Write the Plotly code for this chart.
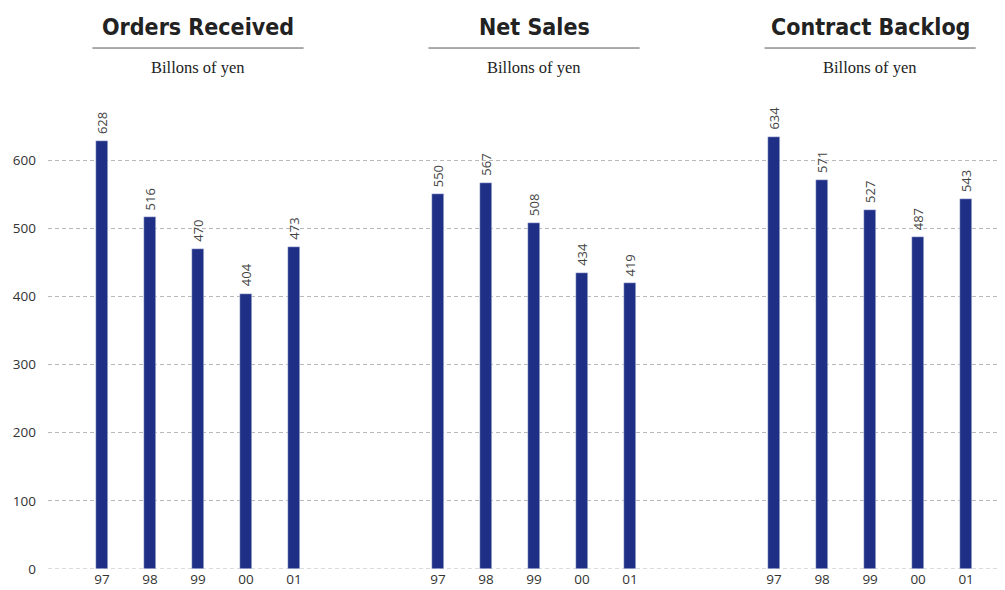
import plotly.graph_objects as go

groups = ["Orders Received", "Net Sales", "Contract Backlog"]
years = ["97", "98", "99", "00", "01"]
orders_received = [628, 516, 470, 404, 473]
net_sales = [550, 567, 508, 434, 419]
contract_backlog = [634, 571, 527, 487, 543]
series = [orders_received, net_sales, contract_backlog]
subtitle = "Billons of yen"
y_ticks = [0, 100, 200, 300, 400, 500, 600]

BAR_COLOR = "#1f2f86"
GRID = "#b8b8b8"
SLOTS_PER_GROUP = 7

fig = go.Figure()
xs_all, tick_text = [], []
for g, vals in enumerate(series):
    xs = [g * SLOTS_PER_GROUP + i for i in range(len(years))]
    xs_all += xs
    tick_text += years
    fig.add_trace(go.Bar(
        x=xs, y=vals, width=0.25, marker_color=BAR_COLOR,
        showlegend=False, hoverinfo="skip",
    ))
    for x, v in zip(xs, vals):
        fig.add_annotation(x=x, y=v, xref="x", yref="y", text=str(v), textangle=-90,
                           showarrow=False, yanchor="bottom", yshift=5,
                           font=dict(family="Open Sans", size=13, color="#444"))
    center = g * SLOTS_PER_GROUP + 2
    fig.add_annotation(x=center, xref="x", y=1.1363, yref="paper", text="<b>" + groups[g] + "</b>",
                       showarrow=False, yanchor="middle",
                       font=dict(family="DejaVu Sans Condensed", size=23, color="#222"))
    fig.add_annotation(x=center, xref="x", y=1.0524, yref="paper", text=subtitle,
                       showarrow=False, yanchor="middle",
                       font=dict(family="Liberation Serif", size=16.5, color="#222"))
    fig.add_shape(type="line", xref="x", yref="paper", x0=center - 2.2, x1=center + 2.2,
                  y0=1.0922, y1=1.0922, line=dict(color="#555", width=1))

# dashed baseline at zero, matching the grid
fig.add_shape(type="line", xref="paper", yref="y", x0=0, x1=1, y0=0, y1=0, layer="below",
              line=dict(color=GRID, width=1, dash="4px,3px"))

fig.update_layout(
    width=997, height=582, plot_bgcolor="white", paper_bgcolor="white",
    margin=dict(l=40, r=0, t=84, b=21), bargap=0,
)
fig.update_xaxes(range=[-1.125, 18.81], tickvals=xs_all, ticktext=tick_text,
                 showgrid=False, zeroline=False, showline=False,
                 tickfont=dict(family="Open Sans", size=13.5, color="#333"), ticks="")
fig.update_yaxes(range=[0, 700], tickvals=y_ticks, showgrid=True, gridcolor=GRID,
                 griddash="4px,3px", gridwidth=1, zeroline=False, showline=False,
                 ticklabelstandoff=11,
                 tickfont=dict(family="Open Sans", size=13.5, color="#333"))
fig.write_html("out.html")
